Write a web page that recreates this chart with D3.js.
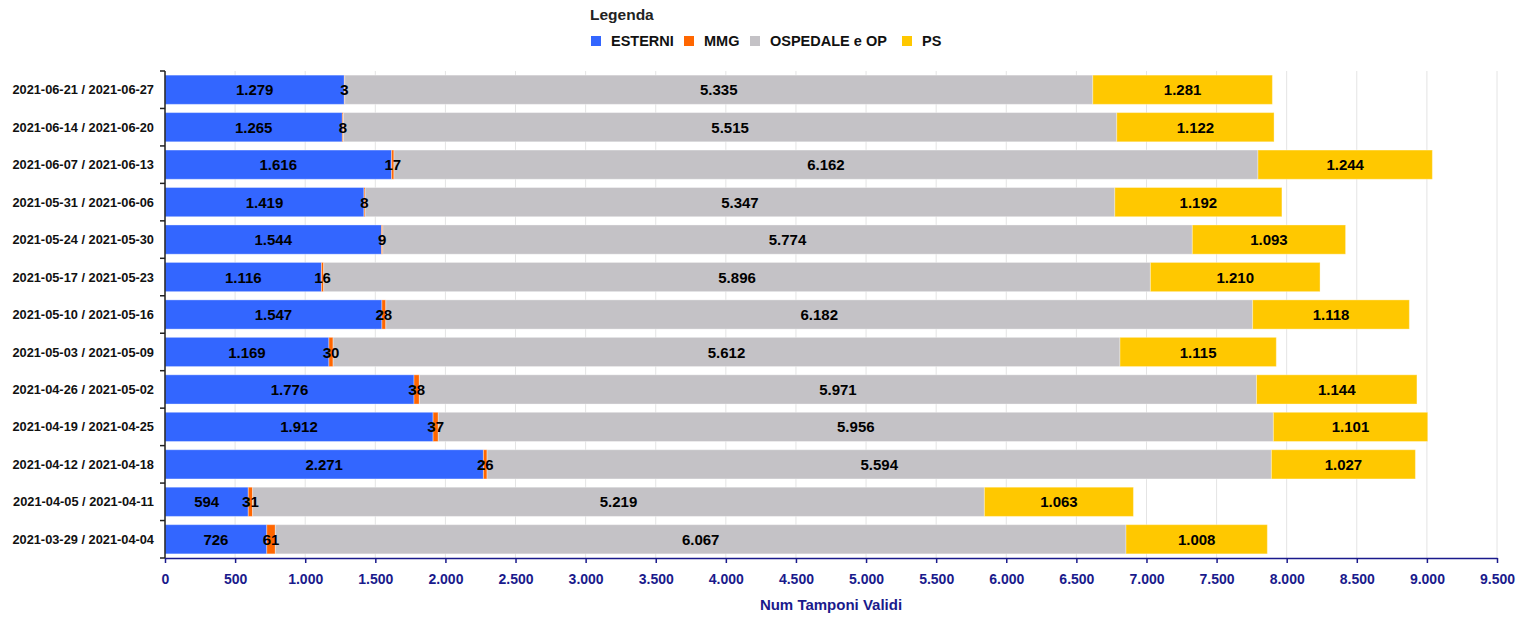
<!DOCTYPE html>
<html>
<head>
<meta charset="utf-8">
<script src="https://cdn.jsdelivr.net/npm/d3@7"></script>
<style>
body { margin: 0; background: #fff; }
svg { display: block; font-family: "Liberation Sans", Arial, sans-serif; }
</style>
</head>
<body>
<svg id="chart" width="1518" height="620"></svg>
<script>
const categories = [
  "2021-06-21 / 2021-06-27",
  "2021-06-14 / 2021-06-20",
  "2021-06-07 / 2021-06-13",
  "2021-05-31 / 2021-06-06",
  "2021-05-24 / 2021-05-30",
  "2021-05-17 / 2021-05-23",
  "2021-05-10 / 2021-05-16",
  "2021-05-03 / 2021-05-09",
  "2021-04-26 / 2021-05-02",
  "2021-04-19 / 2021-04-25",
  "2021-04-12 / 2021-04-18",
  "2021-04-05 / 2021-04-11",
  "2021-03-29 / 2021-04-04"
];
const seriesNames = ["ESTERNI", "MMG", "OSPEDALE e OP", "PS"];
const esterni  = [1279, 1265, 1616, 1419, 1544, 1116, 1547, 1169, 1776, 1912, 2271, 594, 726];
const mmg      = [3, 8, 17, 8, 9, 16, 28, 30, 38, 37, 26, 31, 61];
const ospedale = [5335, 5515, 6162, 5347, 5774, 5896, 6182, 5612, 5971, 5956, 5594, 5219, 6067];
const ps       = [1281, 1122, 1244, 1192, 1093, 1210, 1118, 1115, 1144, 1101, 1027, 1063, 1008];
const xTicks = d3.range(0, 9501, 500);
const colors = ["#3366FF", "#FF6600", "#C4C2C6", "#FFC800"];

const seriesValues = [esterni, mmg, ospedale, ps];
const rows = categories.map((c, i) => {
  const o = { cat: c };
  seriesNames.forEach((s, j) => o[s] = seriesValues[j][i]);
  return o;
});
const stacked = d3.stack().keys(seriesNames)(rows);

const svg = d3.select("#chart");
const margin = { left: 165, right: 21, top: 71, bottom: 62 };
const W = 1518, H = 620;
const x = d3.scaleLinear().domain([0, 9500]).range([margin.left, W - margin.right]);
const y = d3.scaleBand().domain(categories).range([margin.top, H - margin.bottom]).paddingInner(0.22).paddingOuter(0.11);
const fmt = v => d3.format(",")(v).replace(/,/g, ".");

// grid
svg.append("g").selectAll("line").data(xTicks).join("line")
  .attr("x1", d => x(d)).attr("x2", d => x(d))
  .attr("y1", margin.top).attr("y2", H - margin.bottom)
  .attr("stroke", "#e4e4e4").attr("stroke-width", 1);

// bars
const color = d3.scaleOrdinal().domain(seriesNames).range(colors);
const g = svg.append("g");
stacked.forEach(layer => {
  g.append("g").selectAll("rect").data(layer).join("rect")
    .attr("x", d => x(d[0]))
    .attr("y", d => y(d.data.cat))
    .attr("width", d => x(d[1]) - x(d[0]))
    .attr("height", y.bandwidth())
    .attr("fill", color(layer.key))
    .attr("stroke", "rgba(255,255,255,0.35)")
    .attr("stroke-width", 1);
});
// labels
stacked.forEach(layer => {
  g.append("g").selectAll("text").data(layer).join("text")
    .attr("x", d => (x(d[0]) + x(d[1])) / 2)
    .attr("y", d => y(d.data.cat) + y.bandwidth() / 2)
    .attr("dy", "0.37em")
    .attr("text-anchor", "middle")
    .attr("font-size", "15px").attr("font-weight", "bold").attr("fill", "#000")
    .text(d => fmt(d[1] - d[0]));
});

// x axis
const xAxis = svg.append("g").attr("transform", `translate(0,${H - margin.bottom})`)
  .call(d3.axisBottom(x).tickValues(xTicks).tickFormat(fmt).tickSize(5).tickSizeOuter(0));
xAxis.select(".domain").attr("stroke", "#1a1a8c").attr("stroke-width", 1.5);
xAxis.selectAll(".tick line").attr("stroke", "#1a1a8c").attr("stroke-width", 1.5);
xAxis.selectAll(".tick text").attr("fill", "#1a1a8c").attr("font-size", "14px")
  .attr("font-weight", "bold").attr("font-family", "'Liberation Sans', Arial, sans-serif").attr("dy", "1.3em");

svg.append("text").attr("x", (x(0) + x(9500)) / 2).attr("y", 610)
  .attr("text-anchor", "middle").attr("font-size", "15px").attr("font-weight", "bold")
  .attr("fill", "#1a1a8c").text("Num Tamponi Validi");

// y axis
const yG = svg.append("g");
yG.append("line").attr("x1", x(0)).attr("x2", x(0))
  .attr("y1", margin.top).attr("y2", H - margin.bottom).attr("stroke", "#222").attr("stroke-width", 1.5);
const step = y.step();
const boundaries = categories.map(c => y(c) - y.paddingInner() * step / 2).concat([H - margin.bottom]);
yG.selectAll("line.tk").data(boundaries).join("line").attr("class", "tk")
  .attr("x1", x(0) - 5).attr("x2", x(0)).attr("y1", d => d).attr("y2", d => d)
  .attr("stroke", "#222").attr("stroke-width", 1.5);
yG.selectAll("text").data(categories).join("text")
  .attr("x", x(0) - 11).attr("y", d => y(d) + y.bandwidth() / 2).attr("dy", "0.36em")
  .attr("text-anchor", "end").attr("font-size", "12.8px").attr("font-weight", "bold").attr("fill", "#111")
  .text(d => d);

// legend
svg.append("text").attr("x", 590).attr("y", 20).attr("font-size", "15.5px").attr("font-weight", "bold")
  .attr("fill", "#222").text("Legenda");
const legX = [591, 684, 750, 902];
const leg = svg.append("g").selectAll("g").data(seriesNames).join("g")
  .attr("transform", (d, i) => `translate(${legX[i]},36)`);
leg.append("rect").attr("width", 10).attr("height", 10).attr("fill", d => color(d));
leg.append("text").attr("x", 20).attr("y", 5).attr("dy", "0.37em").attr("font-size", "14.5px")
  .attr("font-weight", "bold").attr("fill", "#111").text(d => d);
</script>
</body>
</html>
